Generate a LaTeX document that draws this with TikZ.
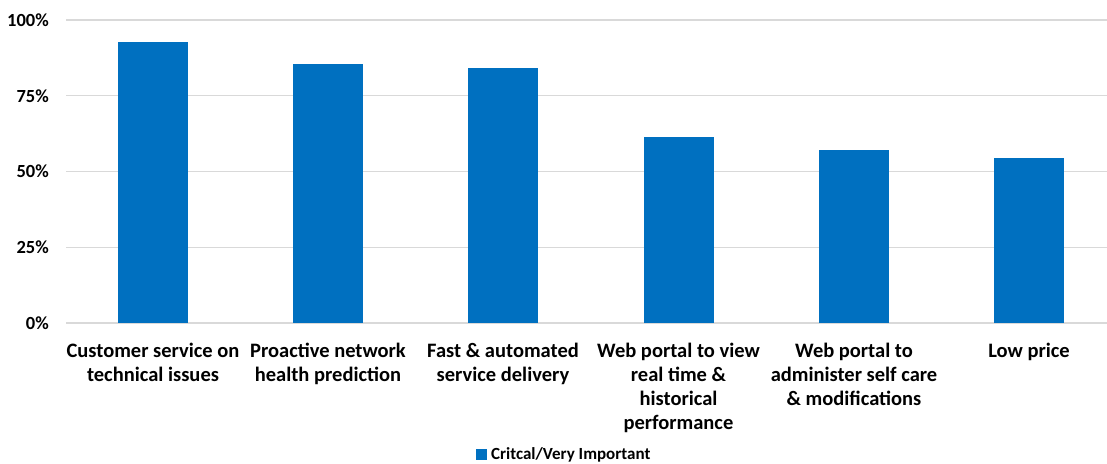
\documentclass[tikz,border=0pt]{standalone}
\usepackage{fontspec}
\setmainfont{Carlito}
\definecolor{barblue}{HTML}{0070C0}
\definecolor{gridgray}{HTML}{D9D9D9}
\begin{document}
\begin{tikzpicture}[x=1pt,y=-1pt,
  grid/.style={draw=gridgray,line width=1.2pt},
  bar/.style={fill=barblue,draw=none},
  ticklab/.style={anchor=east,font=\fontsize{18.5}{20}\selectfont\bfseries,inner sep=0pt},
  catlab/.style={anchor=north,align=center,font=\fontsize{20.5}{24}\selectfont\bfseries,inner sep=0pt},
  leglab/.style={anchor=base west,font=\fontsize{17}{20}\selectfont\bfseries,inner sep=0pt}]
\useasboundingbox (0,0) rectangle (1107,463);
% gridlines and tick labels
\foreach \v/\t [count=\i] in {0/0\%,25/25\%,50/50\%,75/75\%,100/100\%}{
  \pgfmathsetmacro{\yy}{323-3.03*\v}
  \draw[grid] (66,\yy) -- (1107,\yy);
  \node[ticklab] (t\i) at (49,\yy) {\t};
}
% bars
\foreach \c/\v [count=\i] in {153/92.7,328/85.5,503/84.2,678.5/61.4,854/57.1,1029/54.5}{
  \pgfmathsetmacro{\yy}{323-3.03*\v}
  \fill[bar] (\c-35,323) rectangle (\c+35,\yy);
  \coordinate (b\i) at (\c,343);
}
% category labels
\node[catlab] (c1) at (b1) {Customer service on\\technical issues};
\node[catlab] (c2) at (b2) {Proactive network\\health prediction};
\node[catlab] (c3) at (b3) {Fast \& automated\\service delivery};
\node[catlab] (c4) at (b4) {Web portal to view\\real time \&\\historical\\performance};
\node[catlab] (c5) at (b5) {Web portal to\\administer self care\\\& modifications};
\node[catlab] (c6) at (b6) {Low price};
% legend
\fill[bar] (476,449) rectangle (487,460);
\node[leglab] (leg) at (491,459) {Critcal/Very Important};
\end{tikzpicture}
\end{document}
